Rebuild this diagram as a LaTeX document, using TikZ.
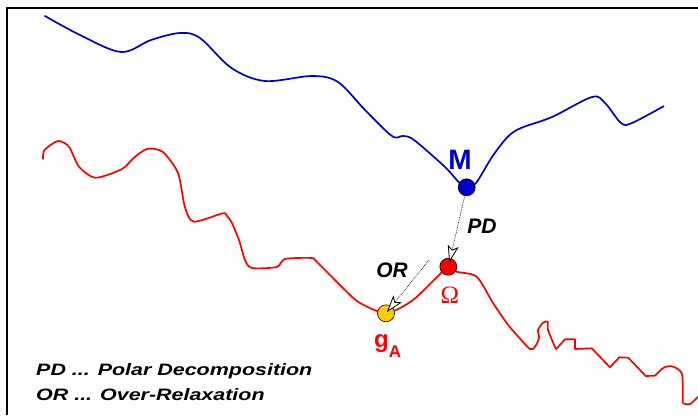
\documentclass[tikz,border=0pt]{standalone}
\usepackage{graphicx}
\usepackage{fontspec}
\setmainfont{Liberation Sans}
\newfontfamily\serifom{Liberation Serif}
\usetikzlibrary{arrows.meta}
\definecolor{cblue}{RGB}{0,0,204}
\definecolor{cred}{RGB}{255,0,0}
\definecolor{cyell}{RGB}{255,204,0}
\tikzset{
  bluecurve/.style={draw=cblue, line width=1.7pt},
  redcurve/.style={draw=cred, line width=1.7pt},
  dot/.style={circle, draw=black, line width=0.6pt, minimum size=17pt, inner sep=0pt},
  pdarrow/.style={densely dotted, line width=0.7pt, -{Stealth[fill=white, length=17pt, width=11pt, inset=4pt, line width=0.8pt]}},
  lbl/.style={font=\bfseries\itshape\fontsize{21}{21}\selectfont},
  legend/.style={font=\bfseries\itshape\fontsize{16.5}{18}\selectfont, anchor=base west, inner sep=0pt}
}
\begin{document}
\begin{tikzpicture}[x=1pt, y=-1pt]
\useasboundingbox (0,0) rectangle (698,415);
% frame
\draw[line width=2pt] (6.5,415) -- (6.5,7.5) -- (698,7.5);
% blue curve
\draw[bluecurve] plot[smooth, tension=0.55] coordinates {
 (44.5,15.7) (80,35) (121,52) (151,40) (180,33) (200,38) (231.5,68) (265,81)
 (312,76) (338,82) (365,110) (392,136) (403,136) (414,140) (445,167) (458.6,182)
 (466.7,187.3) (476,183) (492,157) (507.6,137) (521,128) (552,117) (592,97)
 (605,103) (621,123) (632,123) (664,106)};
% red curve
\draw[redcurve] plot[smooth, tension=0.45] coordinates {
 (43,159.3) (44.5,150) (58,141) (69,146.7) (79,166.7) (95.7,177.7) (122,169)
 (133.6,158) (147,149) (162.5,151.7) (178,173) (184.8,206.7) (193.7,221.7)
 (222.6,213.3) (227,216) (231.5,222) (239,240) (245,260) (252,268) (276.7,267)
 (285,259) (311.7,258) (316.7,261.7) (346.7,291.7) (360,303) (386,313)
 (413,300) (448.3,266.7) (456.7,271.7) (476.7,276.7) (493,303) (506.7,323)
 (515,333) (530,349) (535,346.7) (539,338) (538,330) (543,322.7) (547.7,321.7)
 (548,330) (556,349.3)};
\draw[redcurve, line join=round] (556,349.3) -- (565,339.3) -- (575,339.3) -- (575,349)
 -- (591.7,348.3) -- (610,367.3) -- (619.3,357.3) -- (628.3,357.7) -- (645.7,376) -- (655,375.7);
\draw[redcurve] plot[smooth, tension=0.5] coordinates {
 (655,375.7) (664.3,367.3) (673.3,366.7) (681.7,373.3) (682.7,390) (682.7,403.3)};
\draw[redcurve] plot[smooth, tension=0.5] coordinates {(682.7,403.3) (690,404) (698,396.7)};
% points
\node[dot, fill=cblue] (M) at (466.7,187.3) {};
\node[dot, fill=cred] (Om) at (448.3,266.7) {};
\node[dot, fill=cyell] (gA) at (386,313.3) {};
% labels
\node[text=cblue, font=\bfseries\fontsize{28}{28}\selectfont] (Mlbl) at (460,160) {M};
\node[text=cred, font=\serifom\fontsize{25}{25}\selectfont] (Omlbl) at (450,295) {Ω};
\node[text=cred, font=\bfseries, inner sep=0pt, anchor=base west] (gAlbl) at (374,347) {{\fontsize{24}{24}\selectfont g}\raisebox{-10pt}{\fontsize{17}{17}\selectfont A}};
\node[lbl] (PDlbl) at (482,226) {PD};
\node[lbl] (ORlbl) at (392,270) {OR};
% arrows
\coordinate (ORstart) at (429,260);
\draw[pdarrow, shorten >=4.4pt] (M.center) -- (Om.center);
\draw[pdarrow, shorten >=1.5pt] (ORstart) -- (gA.center);
% legend
\node[legend] (leg1) at (36,375) {\scalebox{1.3}[1]{PD ... Polar Decomposition}};
\node[legend] (leg2) at (36,400) {\scalebox{1.3}[1]{OR ... Over-Relaxation}};
\end{tikzpicture}
\end{document}
